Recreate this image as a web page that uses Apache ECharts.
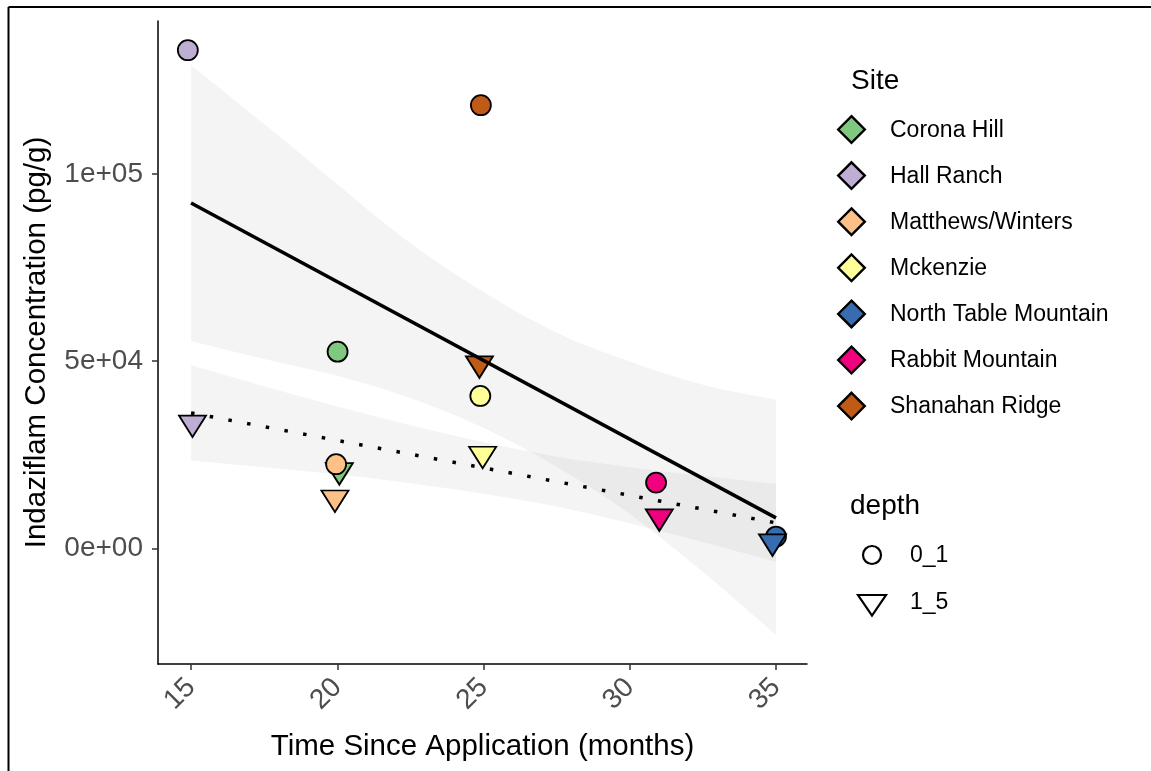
<!DOCTYPE html>
<html>
<head>
<meta charset="utf-8">
<title>Indaziflam concentration over time</title>
<script src="https://cdn.jsdelivr.net/npm/echarts@6/dist/echarts.min.js"></script>
<style>
  html, body { margin: 0; padding: 0; background: #fff; }
  #chart { width: 1151px; height: 771px; }
</style>
</head>
<body>
<div id="chart"></div>
<script>
// Sites and their fill colours (Accent palette)
const siteNames = ['Corona Hill', 'Hall Ranch', 'Matthews/Winters', 'Mckenzie',
                   'North Table Mountain', 'Rabbit Mountain', 'Shanahan Ridge'];
const siteColors = ['#7FC97F', '#BEAED4', '#FDC086', '#FFFF99', '#386CB0', '#F0027F', '#BF5B17'];

// Depth 0_1 samples (months since application, pg/g)
const monthsShallow = [20.01, 14.89, 19.96, 24.89, 35.00, 30.90, 24.91];
const concShallow   = [52550, 133100, 22480, 40720, 3150, 17570, 118400];

// Depth 1_5 samples
const monthsDeep = [20.07, 15.05, 19.92, 24.97, 34.88, 31.01, 24.86];
const concDeep   = [20850, 33560, 13540, 25230, 1820, 8490, 49370];

// Linear trends per depth
const trendMonths  = [15, 35];
const trendShallow = [92250, 8150];
const trendDeep    = [36180, 6810];

// Confidence bands around the trends
const bandMonths   = [15, 17.5, 20, 22.5, 25, 27.5, 30, 32.5, 35];
const shallowUpper = [129100, 113400, 97300, 81500, 68500, 57600, 49900, 43700, 39700];
const shallowLower = [55400, 50600, 46100, 40200, 32200, 21800, 9200, -6300, -23100];
const deepUpper    = [48900, 43300, 37900, 32900, 28400, 24500, 21700, 19300, 17200];
const deepLower    = [23500, 21700, 19800, 17400, 14600, 11200, 6700, 1700, -3600];

// Axis ticks
const xTicks = [15, 20, 25, 30, 35];
const yTicks = [0, 50000, 100000];
const yTickLabels = ['0e+00', '5e+04', '1e+05'];

const depthNames = ['0_1', '1_5'];

const FONT = 'Liberation Sans, Arial, sans-serif';
const TRI_DOWN = 'path://M0,0L20,0L10,16Z';
const TRI_W = 27, TRI_H = 21.5;
const BAND_FILL = 'rgba(153,153,153,0.11)';

const chart = echarts.init(document.getElementById('chart'), null, { renderer: 'canvas' });

// Smooth curve through pixel points as cubic Bezier segments (path commands only)
function curveThrough(pts) {
  let d = '';
  for (let i = 0; i < pts.length - 1; i++) {
    const p0 = pts[Math.max(i - 1, 0)], p1 = pts[i], p2 = pts[i + 1], p3 = pts[Math.min(i + 2, pts.length - 1)];
    const c1 = [p1[0] + (p2[0] - p0[0]) / 6, p1[1] + (p2[1] - p0[1]) / 6];
    const c2 = [p2[0] - (p3[0] - p1[0]) / 6, p2[1] - (p3[1] - p1[1]) / 6];
    d += 'C' + c1[0] + ',' + c1[1] + ' ' + c2[0] + ',' + c2[1] + ' ' + p2[0] + ',' + p2[1];
  }
  return d;
}

function bandSeries(upper, lower) {
  return {
    type: 'custom',
    coordinateSystem: 'cartesian2d',
    silent: true,
    z: 2,
    data: [[bandMonths[0], upper[0]]],
    renderItem: function (params, api) {
      const top = bandMonths.map(function (m, i) { return api.coord([m, upper[i]]); });
      const bottom = bandMonths.map(function (m, i) { return api.coord([m, lower[i]]); }).reverse();
      const d = 'M' + top[0][0] + ',' + top[0][1] + curveThrough(top) +
                'L' + bottom[0][0] + ',' + bottom[0][1] + curveThrough(bottom) + 'Z';
      return { type: 'path', shape: { pathData: d }, style: { fill: BAND_FILL } };
    }
  };
}

const pointSeries = siteNames.map(function (name, i) {
  return {
    name: name,
    type: 'scatter',
    z: 3,
    data: [
      { value: [monthsShallow[i], concShallow[i]], symbol: 'circle', symbolSize: 20 },
      { value: [monthsDeep[i], concDeep[i]], symbol: TRI_DOWN, symbolSize: [TRI_W, TRI_H],
        symbolOffset: [0, TRI_H / 6] }
    ],
    itemStyle: { color: siteColors[i], borderColor: '#000', borderWidth: 1.8, opacity: 1 }
  };
});

// Legend drawn as graphic elements
const legend = [];
legend.push({ type: 'text', x: 851, y: 81,
  style: { text: 'Site', font: '28px ' + FONT, fill: '#000', align: 'left', verticalAlign: 'middle' } });
siteNames.forEach(function (name, i) {
  const cy = 129.5 + i * 46.1, cx = 851.5, r = 13.3;
  legend.push({ type: 'polygon',
    shape: { points: [[cx, cy - r], [cx + r, cy], [cx, cy + r], [cx - r, cy]] },
    style: { fill: siteColors[i], stroke: '#000', lineWidth: 2.4 } });
  legend.push({ type: 'text', x: 890, y: cy + 1,
    style: { text: name, font: '23px ' + FONT, fill: '#000', align: 'left', verticalAlign: 'middle' } });
});
legend.push({ type: 'text', x: 850, y: 506,
  style: { text: 'depth', font: '28px ' + FONT, fill: '#000', align: 'left', verticalAlign: 'middle' } });
legend.push({ type: 'circle', shape: { cx: 872, cy: 555, r: 9 },
  style: { fill: '#fff', stroke: '#000', lineWidth: 2.2 } });
legend.push({ type: 'polygon', shape: { points: [[858, 595], [886, 595], [872, 615.5]] },
  style: { fill: '#fff', stroke: '#000', lineWidth: 2.2 } });
depthNames.forEach(function (d, i) {
  legend.push({ type: 'text', x: 910, y: 556 + i * 47,
    style: { text: d, font: '23px ' + FONT, fill: '#000', align: 'left', verticalAlign: 'middle' } });
});
// Outer frame edges
legend.push({ type: 'line', shape: { x1: 8.5, y1: 7, x2: 1151, y2: 7 }, style: { stroke: '#000', lineWidth: 2 } });
legend.push({ type: 'line', shape: { x1: 8.5, y1: 7, x2: 8.5, y2: 771 }, style: { stroke: '#000', lineWidth: 2 } });

const option = {
  animation: false,
  backgroundColor: '#fff',
  grid: { left: 158, top: 21, width: 649, height: 643, containLabel: false },
  xAxis: {
    type: 'value', min: 13.87, max: 36.06,
    axisLine: { show: true, onZero: false, lineStyle: { color: '#000', width: 1.5 } },
    axisTick: { show: true, length: 6, customValues: xTicks, lineStyle: { color: '#333', width: 1.5 } },
    axisLabel: { customValues: xTicks, rotate: 45, margin: 19, color: '#4D4D4D', fontSize: 28, fontFamily: FONT },
    splitLine: { show: false },
    name: 'Time Since Application (months)', nameLocation: 'middle', nameGap: 68,
    nameTextStyle: { color: '#000', fontSize: 29.5, fontFamily: FONT }
  },
  yAxis: {
    type: 'value', min: -30900, max: 140900,
    axisLine: { show: true, onZero: false, lineStyle: { color: '#000', width: 1.5 } },
    axisTick: { show: true, length: 6, customValues: yTicks, lineStyle: { color: '#333', width: 1.5 } },
    axisLabel: { customValues: yTicks, margin: 15, color: '#4D4D4D', fontSize: 28, fontFamily: FONT,
      formatter: function (v) { const k = yTicks.indexOf(v); return k >= 0 ? yTickLabels[k] : ''; } },
    splitLine: { show: false },
    name: 'Indaziflam Concentration (pg/g)', nameLocation: 'middle', nameGap: 106,
    nameTextStyle: { color: '#000', fontSize: 29.5, fontFamily: FONT }
  },
  series: pointSeries.concat([
    bandSeries(shallowUpper, shallowLower),
    bandSeries(deepUpper, deepLower),
    { type: 'line', z: 4, silent: true, symbol: 'none',
      data: trendMonths.map(function (m, i) { return [m, trendShallow[i]]; }),
      lineStyle: { color: '#000', width: 3.5 } },
    { type: 'line', z: 4, silent: true, symbol: 'none',
      data: trendMonths.map(function (m, i) { return [m, trendDeep[i]]; }),
      lineStyle: { color: '#000', width: 3.5, type: [3.5, 15.5], cap: 'butt' } }
  ]),
  graphic: legend
};

chart.setOption(option);
</script>
</body>
</html>
